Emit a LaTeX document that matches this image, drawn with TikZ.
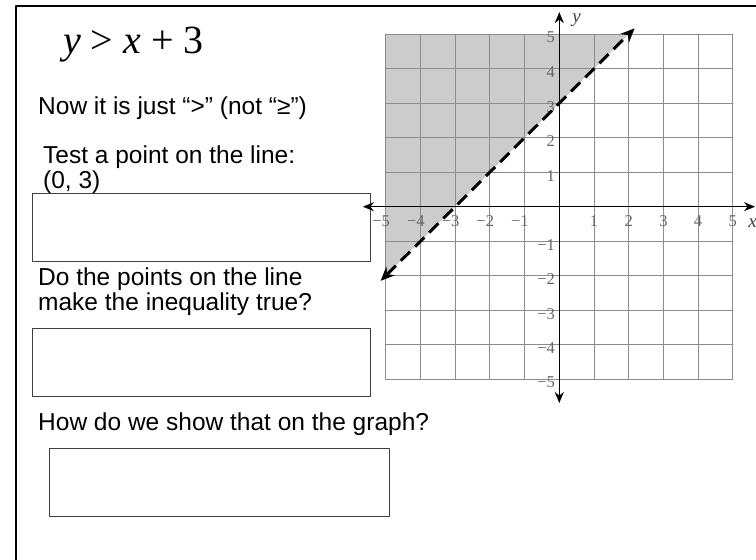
\documentclass[tikz,border=0pt]{standalone}
\usepackage{fontspec}
\setmainfont{Liberation Sans}
\newfontfamily\timesfont{Liberation Serif}
\usetikzlibrary{arrows.meta}
\begin{document}
\begin{tikzpicture}[x=1pt,y=-1pt,>=stealth,line join=round,line cap=round,
		font=\fontsize{24.5}{25}\selectfont]
	\tikzset{
		answerbox/.style={draw=black!75,line width=0.9pt,minimum width=338pt,minimum height=68pt,anchor=north west,inner sep=0pt},
		prompt/.style={anchor=north west,inner sep=0pt,align=left},
		ticklab/.style={font=\timesfont\fontsize{16.5}{16.5}\selectfont,text=black!60,inner sep=0pt},
		axislab/.style={font=\timesfont\itshape\fontsize{19}{19}\selectfont,text=black!75,inner sep=0pt},
		gridline/.style={draw=black!45,line width=0.9pt},
	}
	\useasboundingbox (0,0) rectangle (756,560);
	% frame of the slide
	\draw[line width=2.5pt,line cap=butt] (16,560) |- (756,6);
	% left column
	\node[anchor=base west,inner sep=0pt,font=\timesfont\fontsize{40}{40}\selectfont] (ineq) at (63,53) {\textit{y} > \textit{x} + 3};
	\node[prompt] (note) at (38,97) {Now it is just “>” (not “≥”)};
	\node[prompt] (testq) at (43,146) {Test a point on the line:\\(0, 3)};
	\node[answerbox] (box1) at (32,193) {};
	\node[prompt] (trueq) at (38,268) {Do the points on the line\\make the inequality true?};
	\node[answerbox] (box2) at (32,328) {};
	\node[prompt] (showq) at (38,413) {How do we show that on the graph?};
	\node[answerbox,minimum width=340pt] (box3) at (49,448) {};
	% the graph
	\begin{scope}[shift={(559.3,206.7)},x=34.7pt,y=34.5pt]
		\def\xmin{-5} \def\xmax{5}
		\def\ymin{-5} \def\ymax{5}
		\fill[black!20] (\xmin,-2) -- (\xmin,\ymax) -- (2,\ymax) -- cycle;
		\draw[gridline,step=1] (\xmin,\ymin) grid (\xmax,\ymax);
		\coordinate (xl) at (-5.66,0); \coordinate (xr) at (5.64,0);
		\coordinate (yb) at (0,-5.69); \coordinate (yt) at (0,5.64);
		\draw[<->,line width=1.4pt,>={Stealth[length=11pt,width=9pt]}] (xl) -- (xr);
		\draw[<->,line width=1.4pt,>={Stealth[length=11pt,width=9pt]}] (yb) -- (yt);
		\foreach \n in {1,...,5}{
			\node[ticklab,anchor=north] (xp\n) at (\n,-0.25) {\n};
			\node[ticklab,anchor=north] (xm\n) at (-\n,-0.25) {\llap{−}\n};
			\node[ticklab,anchor=east] (yp\n) at (-0.12,\n-0.1) {\n};
			\node[ticklab,anchor=east] (ym\n) at (-0.12,-\n-0.1) {−\n};
		}
		\node[axislab] (xlab) at (5.57,-0.47) {x};
		\node[axislab] (ylab) at (0.5,5.41) {y};
		% boundary y = x + 3, dashed
		\coordinate (lo) at (-5.15,-2.15); \coordinate (hi) at (2.17,5.17);
		\draw[<->,line width=3pt,line cap=butt,dash pattern=on 13pt off 7pt,>={Stealth[length=14pt,width=12pt]}] (lo) -- (hi);
	\end{scope}
\end{tikzpicture}
\end{document}
